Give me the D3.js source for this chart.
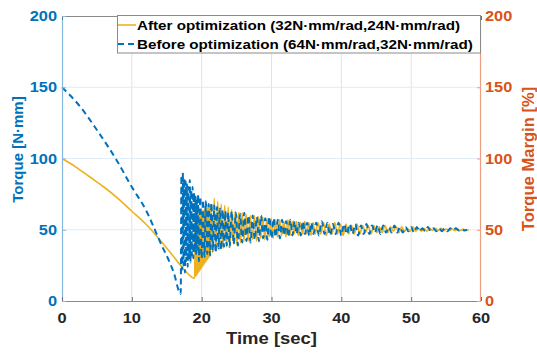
<!DOCTYPE html>
<html><head><meta charset="utf-8">
<script src="https://cdn.jsdelivr.net/npm/d3@7"></script>
<style>body{margin:0;background:#fff}svg{display:block}text{font-family:"Liberation Sans",Arial,sans-serif;font-weight:bold}</style>
</head><body>
<script>
// ---- data ----
const xTicks = [0,10,20,30,40,50,60];
const yTicksLeft = [0,50,100,150,200];
const yTicksRight = [0,50,100,150,200];
const seriesNames = ["After optimization (32N\u00B7mm/rad,24N\u00B7mm/rad)","Before optimization (64N\u00B7mm/rad,32N\u00B7mm/rad)"];

const afterPts = [[0,100],[2,94],[4,87],[6,80],[8,72],[10,63],[12,54],[14,43],[16,31],[17.5,22],[19.0,16],
[19.07,58],[19.14,17],[19.21,60],[19.28,18],[19.35,61],[19.42,19],[19.49,62],[19.56,20],[19.63,61],[19.70,21],[19.77,63],[19.84,22],[19.91,62],[19.98,23],[20.05,64],[20.12,24],[20.19,63],[20.26,25],[20.33,64],[20.40,26],[20.47,65],[20.54,27],[20.61,64],[20.68,28],[20.75,66],[20.82,29],[20.89,65],[20.96,30],[21.03,67],[21.10,31],[21.17,66],[21.24,32],[21.31,68],
[21.55,34],[21.8,72],[22.05,35],[22.3,70],[22.55,36],[22.8,68],[23.05,37],[23.3,67],[23.55,38],[23.8,66],[24.05,38],[24.3,64],[24.55,40],[24.8,63],[25.05,39],[25.3,62],[25.55,41],[25.8,62],[26.05,42],
[26.35,61],[26.65,42],[26.95,60],[27.25,43],[27.55,60],[27.85,42],[28.15,59],[28.45,44],[28.75,59],[29.05,43],[29.35,58],[29.65,45],[29.95,58],[30.25,44],[30.55,57],[30.85,45],[31.15,57],[31.45,46],[31.75,56],[32.05,45],[32.35,57],[32.65,46],[32.95,56],[33.25,47],[33.55,56],[33.85,46],[34.15,55],[34.45,47],[34.75,56],[35.05,47],[35.35,55],[35.65,46],[35.95,55],[36.25,47],
[36.65,55],[37.05,47],[37.45,55],[37.85,46],[38.25,54],[38.65,47],[39.05,55],[39.45,47],[39.85,54],[40.25,46],[40.65,54],[41.05,47],[41.45,53],[41.85,47],[42.25,54],[42.65,47],[43.05,53],[43.45,48],[43.85,53],[44.25,47],[44.65,53],[45.05,48],[45.45,52],[45.85,48],[46.25,53],[46.65,48],[47.05,52],[47.45,49],[47.85,52],[48.25,48],[48.65,52],[49.05,49],[49.45,51],[49.85,49],[50.25,52],[50.65,49],[51.05,51],[51.45,49],[51.85,51],[52.25,49],[52.65,51],[53.05,49.5],[53.45,51],[53.85,49.5],[54.25,51],[54.65,49.5],[55.05,50.5],[55.45,49.5],[55.85,50.5],[56.25,49.5],[56.65,50.5],[57.05,49.5],[57.45,50.5],[57.85,49.5],[58.25,50]];

const beforePts = [[0,150],[2.5,137],[5,120],[7.8,99],[10,80],[12,64],[14,42],[16,20],[17.0,5],
[17.1,88],[17.2,22],[17.3,90],[17.4,25],[17.5,86],[17.6,20],[17.7,84],[17.8,28],[17.9,82],[18.0,24],[18.1,80],[18.2,30],[18.3,85],[18.4,27],[18.5,78],[18.6,32],[18.7,80],[18.8,30],[18.9,76],[19.0,34],[19.1,74],[19.2,33],[19.3,72],[19.4,36],[19.5,75],
[19.6,28],[19.8,73],[20.0,30],[20.2,71],[20.4,31],[20.6,70],[20.8,33],[21.0,68],[21.2,32],[21.4,69],[21.6,35],[21.8,67],[22.0,34],[22.2,66],[22.4,37],[22.6,65],[22.8,36],[23.0,64],[23.2,38],[23.4,63],[23.6,39],[23.8,62],[24.0,38],
[24.3,63],[24.6,40],[24.9,62],[25.2,39],[25.5,61],[25.8,41],[26.1,62],[26.4,42],[26.7,60],[27.0,41],[27.3,60],[27.6,43],[27.9,59],[28.2,42],[28.5,60],[28.8,44],[29.1,58],[29.4,43],[29.7,59],[30.0,44],[30.3,58],[30.6,45],[30.9,57],[31.2,44],[31.5,57],[31.8,46],[32.1,56],[32.4,45],[32.7,57],[33.0,46],[33.3,56],[33.6,47],[33.9,55],[34.2,46],[34.5,56],[34.8,47],[35.1,55],[35.4,46],[35.7,55],[36.0,47],
[36.4,55],[36.8,46],[37.2,56],[37.6,47],[38.0,55],[38.4,46],[38.8,54],[39.2,47],[39.6,55],[40.0,46],[40.4,54],[40.8,47],[41.2,54],[41.6,47],[42.0,54],[42.4,46],[42.8,53],[43.2,47],[43.6,54],[44.0,47],[44.4,53],[44.8,48],[45.2,53],[45.6,47],[46.0,53],[46.4,48],[46.8,52],[47.2,48],[47.6,53],[48.0,48],[48.4,52],[48.8,48],[49.2,52],[49.6,49],[50.0,52],[50.4,48],[50.8,52],[51.2,49],[51.6,51],[52.0,49],[52.4,52],[52.8,49],[53.2,51],[53.6,49],[54.0,51],[54.4,49],[54.8,51],[55.2,49],[55.6,51],[56.0,49.5],[56.4,51],[56.8,49.5],[57.2,50.5],[57.6,49.5],[58.0,50]];

// ---- drawing ----
const W=537,H=353, SX=1.17;
const BLUE="#0072BD", ORANGE="#D95319", GOLD="#EDB120", DARK="#262626";
const x=d3.scaleLinear().domain([0,60]).range([62,481]);
const y=d3.scaleLinear().domain([0,200]).range([301,16]);
const yR=d3.scaleLinear().domain([0,200]).range([301,16]);
const svg=d3.select("body").append("svg").attr("width",W).attr("height",H);

// grid
svg.append("g").selectAll("line").data(xTicks.slice(1,-1)).join("line")
 .attr("x1",d=>x(d)).attr("x2",d=>x(d)).attr("y1",y(0)).attr("y2",y(200))
 .attr("stroke","#e3e3e3").attr("stroke-width",1);
svg.append("g").selectAll("line").data(yTicksLeft.slice(1,-1)).join("line")
 .attr("x1",x(0)).attr("x2",x(60)).attr("y1",d=>y(d)).attr("y2",d=>y(d))
 .attr("stroke","#e0ecf7").attr("stroke-width",1);

// series
const line=d3.line().x(d=>x(d[0])).y(d=>y(d[1])).curve(d3.curveMonotoneX);
svg.append("path").datum(afterPts).attr("d",line).attr("fill","none")
 .attr("stroke",GOLD).attr("stroke-width",1.6).attr("stroke-linejoin","round");
svg.append("path").datum(beforePts).attr("d",line).attr("fill","none")
 .attr("stroke",BLUE).attr("stroke-width",2).attr("stroke-dasharray","6,4");

// box / axes
svg.append("line").attr("x1",x(0)).attr("x2",x(60)).attr("y1",y(200)+0.5).attr("y2",y(200)+0.5).attr("stroke","#8a8a8a");
svg.append("line").attr("x1",x(0)).attr("x2",x(60)).attr("y1",y(0)+0.5).attr("y2",y(0)+0.5).attr("stroke","#8a8a8a");
svg.append("line").attr("x1",x(0)+0.5).attr("x2",x(0)+0.5).attr("y1",y(0)).attr("y2",y(200)).attr("stroke","#86b9df").attr("stroke-width",1.2);
svg.append("line").attr("x1",x(60)-0.5).attr("x2",x(60)-0.5).attr("y1",y(0)).attr("y2",y(200)).attr("stroke","#ee9f82").attr("stroke-width",1.2);

// ticks
svg.append("g").selectAll("line").data(xTicks).join("line")
 .attr("x1",d=>x(d)+0.5).attr("x2",d=>x(d)+0.5).attr("y1",y(0)).attr("y2",y(0)-4).attr("stroke","#707070");
svg.append("g").selectAll("line").data(xTicks).join("line")
 .attr("x1",d=>x(d)+0.5).attr("x2",d=>x(d)+0.5).attr("y1",y(200)).attr("y2",y(200)+4).attr("stroke","#707070");
svg.append("g").selectAll("line").data(yTicksLeft).join("line")
 .attr("x1",x(0)).attr("x2",x(0)+4).attr("y1",d=>y(d)+0.5).attr("y2",d=>y(d)+0.5).attr("stroke","#86b9df");
svg.append("g").selectAll("line").data(yTicksRight).join("line")
 .attr("x1",x(60)).attr("x2",x(60)-4).attr("y1",d=>yR(d)+0.5).attr("y2",d=>yR(d)+0.5).attr("stroke","#ee9f82");

// tick labels
function stext(g,px,py,txt,anchor,size,color){
  return g.append("text").attr("transform",`translate(${px},${py}) scale(${SX},1)`)
   .attr("text-anchor",anchor).attr("font-size",size).attr("fill",color).text(txt);
}
const tl=svg.append("g");
xTicks.forEach(d=>stext(tl,x(d),322.5,d,"middle",14,DARK));
yTicksLeft.forEach(d=>stext(tl,57,y(d)+5,d,"end",14,BLUE));
yTicksRight.forEach(d=>stext(tl,485,yR(d)+5,d,"start",14,ORANGE));

// axis labels
stext(svg,271.5,344,"Time [sec]","middle",15.8,DARK);
svg.append("text").attr("transform","translate(22.5,149.5) rotate(-90)").attr("text-anchor","middle")
 .attr("font-size",15).attr("fill",BLUE).text("Torque [N\u00B7mm]");
svg.append("text").attr("transform","translate(533.5,159) rotate(-90)").attr("text-anchor","middle")
 .attr("font-size",16.6).attr("fill",ORANGE).text("Torque Margin [%]");

// legend
const lg=svg.append("g");
lg.append("rect").attr("x",117.5).attr("y",15.5).attr("width",363).attr("height",37.5)
 .attr("fill","#fff").attr("stroke","#8a8a8a");
lg.append("line").attr("x1",118).attr("x2",136).attr("y1",25).attr("y2",25).attr("stroke",GOLD).attr("stroke-width",1.6);
lg.append("line").attr("x1",118).attr("x2",136).attr("y1",44).attr("y2",44).attr("stroke",BLUE).attr("stroke-width",2).attr("stroke-dasharray","6,4");
stext(lg,137,30,seriesNames[0],"start",13,"#000");
stext(lg,137,49.3,seriesNames[1],"start",13,"#000");
</script>
</body></html>
